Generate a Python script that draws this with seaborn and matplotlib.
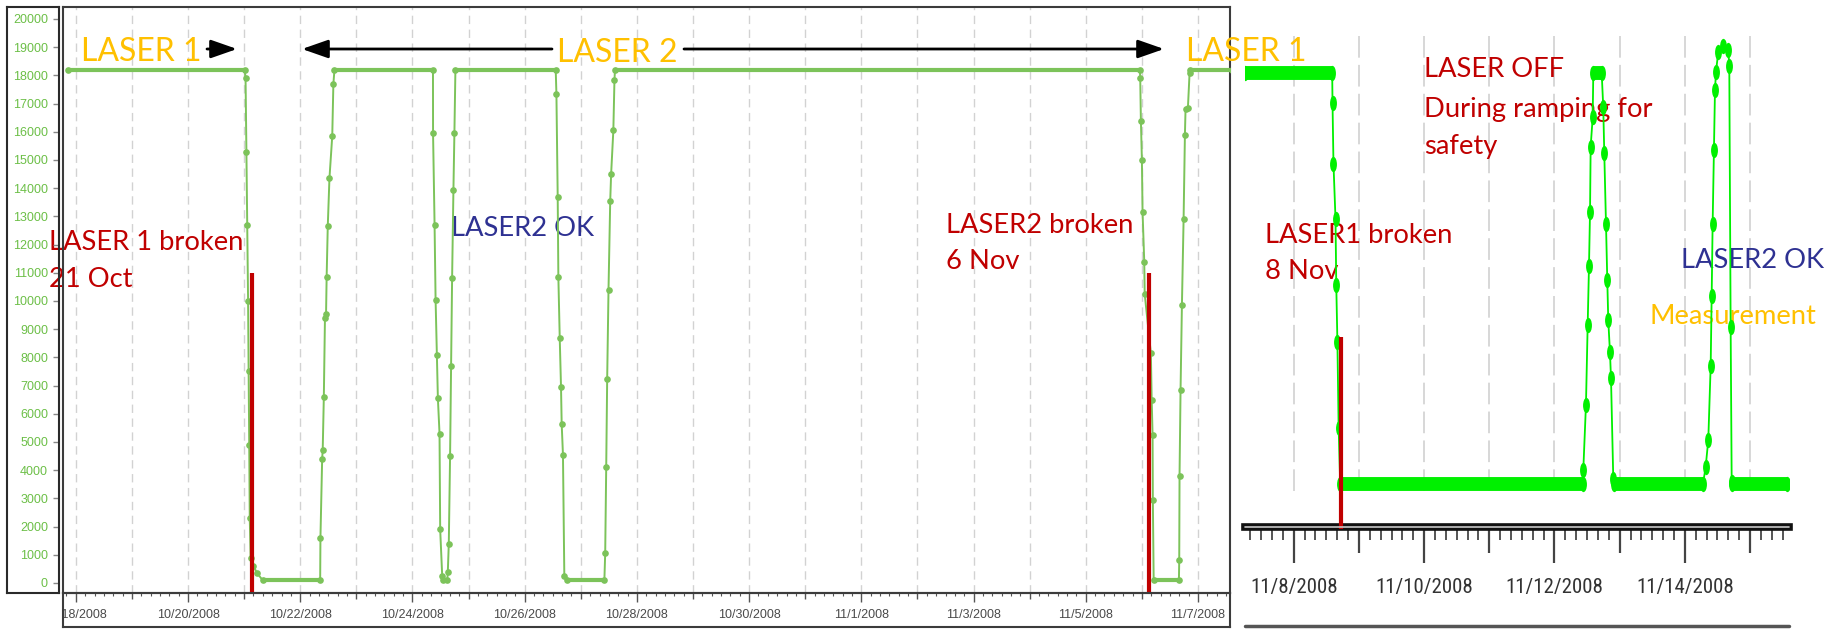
import warnings; warnings.filterwarnings("ignore")
from datetime import date
import numpy as np
import pandas as pd
import matplotlib.pyplot as plt
import matplotlib.dates as mdates
from matplotlib.ticker import FuncFormatter
from matplotlib.patches import FancyArrowPatch
from matplotlib.lines import Line2D
from matplotlib.path import Path
from matplotlib.transforms import Affine2D
from matplotlib import font_manager as fm
import seaborn as sns

sns.set_theme(style="white")
plt.rcParams["font.family"] = ["Lato", "DejaVu Sans"]

# ── data: laser power readback, 17 Oct - 7 Nov 2008 (left panel) ─────────────
left_time = [
    "2008-10-17 20:40", "2008-10-21 00:14", "2008-10-21 00:36", "2008-10-21 00:58",
    "2008-10-21 01:19", "2008-10-21 01:41", "2008-10-21 01:55", "2008-10-21 02:10",
    "2008-10-21 02:24", "2008-10-21 02:46", "2008-10-21 03:58", "2008-10-21 05:31",
    "2008-10-21 07:55",
    "2008-10-22 08:31", "2008-10-22 08:38", "2008-10-22 09:22", "2008-10-22 09:36",
    "2008-10-22 10:05", "2008-10-22 10:34", "2008-10-22 11:02", "2008-10-22 11:17",
    "2008-10-22 11:46", "2008-10-22 12:29", "2008-10-22 13:41", "2008-10-22 14:10",
    "2008-10-22 14:38",
    "2008-10-24 08:46", "2008-10-24 08:48", "2008-10-24 09:27", "2008-10-24 09:53",
    "2008-10-24 10:26", "2008-10-24 10:52", "2008-10-24 11:34", "2008-10-24 11:51",
    "2008-10-24 12:43", "2008-10-24 12:58",
    "2008-10-24 14:53", "2008-10-24 15:07", "2008-10-24 15:32", "2008-10-24 16:05",
    "2008-10-24 16:31", "2008-10-24 16:57", "2008-10-24 17:31", "2008-10-24 17:56",
    "2008-10-24 18:22",
    "2008-10-26 13:16", "2008-10-26 13:34", "2008-10-26 14:07", "2008-10-26 14:24",
    "2008-10-26 14:59", "2008-10-26 15:32", "2008-10-26 15:49", "2008-10-26 16:22",
    "2008-10-26 16:57", "2008-10-26 17:56",
    "2008-10-27 10:05", "2008-10-27 10:26", "2008-10-27 10:52", "2008-10-27 11:17",
    "2008-10-27 11:51", "2008-10-27 12:35", "2008-10-27 12:58", "2008-10-27 13:55",
    "2008-10-27 14:24", "2008-10-27 14:38",
    "2008-11-05 23:08", "2008-11-05 23:17", "2008-11-05 23:34", "2008-11-06 00:00",
    "2008-11-06 00:17", "2008-11-06 01:00", "2008-11-06 01:12", "2008-11-06 03:50",
    "2008-11-06 04:11", "2008-11-06 04:34", "2008-11-06 04:41", "2008-11-06 05:02",
    "2008-11-06 15:50", "2008-11-06 15:58", "2008-11-06 16:06", "2008-11-06 16:32",
    "2008-11-06 17:07", "2008-11-06 17:50", "2008-11-06 18:24", "2008-11-06 18:40",
    "2008-11-06 19:41", "2008-11-06 20:24", "2008-11-06 20:41",
    "2008-11-07 14:30",
]
left_value = [
    18200, 18200, 17900, 15300, 12700, 10000, 7500, 4900, 2300, 900, 600, 350, 100,
    100, 1600, 4400, 4700, 6600, 9400, 9550, 10850, 12650, 14350, 15850, 17700, 18200,
    18200, 15950, 12700, 10050, 8100, 6550, 5300, 1900, 250, 100,
    100, 400, 1400, 4500, 7700, 10800, 13950, 15950, 18200,
    18200, 17350, 13700, 10850, 8700, 6950, 5650, 4550, 250, 100,
    100, 1050, 4100, 7250, 10400, 13550, 14500, 16050, 17850, 18200,
    18200, 17900, 16400, 15000, 13150, 11400, 10250, 8150, 6500, 5250, 2950, 100,
    100, 800, 3800, 6850, 9850, 12900, 15900, 16800, 16850, 18100, 18200,
    18200,
]
left_broken = ["2008-10-21 03:29", "2008-11-06 02:53"]
broken_top = 11000
left_yticks = list(range(0, 20001, 1000))

# ── data: zoom 7 - 15 Nov 2008 (right panel) ──────────────────────────────────
right_time = [
    "2008-11-07 06:00", "2008-11-08 14:10", "2008-11-08 14:17", "2008-11-08 14:38",
    "2008-11-08 15:23", "2008-11-08 15:40", "2008-11-08 16:05", "2008-11-08 16:32",
    "2008-11-08 17:07",
    "2008-11-12 10:19", "2008-11-12 10:36", "2008-11-12 11:35", "2008-11-12 12:13",
    "2008-11-12 12:42", "2008-11-12 13:05", "2008-11-12 13:19", "2008-11-12 14:04",
    "2008-11-12 14:17", "2008-11-12 17:23", "2008-11-12 17:57", "2008-11-12 18:20",
    "2008-11-12 18:58", "2008-11-12 19:26", "2008-11-12 19:48", "2008-11-12 20:25",
    "2008-11-12 20:48", "2008-11-12 21:39", "2008-11-12 21:50",
    "2008-11-14 06:40", "2008-11-14 07:39", "2008-11-14 08:37", "2008-11-14 09:30",
    "2008-11-14 09:52", "2008-11-14 10:13", "2008-11-14 10:42", "2008-11-14 11:05",
    "2008-11-14 11:27", "2008-11-14 12:17", "2008-11-14 14:08", "2008-11-14 15:59",
    "2008-11-14 16:21", "2008-11-14 16:51", "2008-11-14 17:14", "2008-11-14 17:31",
    "2008-11-15 13:35",
]
right_value = [
    18200, 18200, 16900, 14200, 11750, 8800, 6300, 2500, 0,
    0, 600, 3500, 7050, 9650, 12050, 14950, 16250, 18200,
    18200, 16700, 14650, 11500, 9050, 7250, 5850, 4700, 200, 0,
    0, 750, 1950, 5250, 8350, 11500, 14800, 17450, 18250, 19150, 19400, 19250,
    18500, 6950, 100, 0,
    0,
]
right_broken = ["2008-11-08 17:14"]
right_broken_top = 6500

GREEN_L = "#7cc35a"
GREEN_R = "#00f000"
RED = "#c00000"
BLUE = "#2e3192"
YELLOW = "#ffc000"

W, H = 1843, 629
fig = plt.figure(figsize=(W / 100, H / 100), dpi=100)
fig.patch.set_facecolor("white")

def fbox(x0, y0, x1, y1):
    return [x0 / W, 1 - y1 / H, (x1 - x0) / W, (y1 - y0) / H]

def fx(px): return px / W
def fy(py): return 1 - py / H

def draw_series(ax, t, v, color, lw, flat_lw, marker, ms):
    sns.lineplot(x=t, y=v, ax=ax, estimator=None, sort=False, color=color, lw=lw,
                 marker=marker, markersize=ms, markeredgewidth=0, legend=False, zorder=3)
    for i in range(len(v) - 1):
        if v[i] == v[i + 1]:
            ax.plot(t[i:i + 2], v[i:i + 2], color=color, lw=flat_lw,
                    solid_capstyle="butt", zorder=3)

# ── left panel ────────────────────────────────────────────────────────────────
ax = fig.add_axes(fbox(63, 7, 1230, 593))
ax_y = fig.add_axes(fbox(7, 7, 59, 593), sharey=ax)
ax_x = fig.add_axes(fbox(63, 593, 1230, 627), sharex=ax)

lt = pd.Series(pd.to_datetime(left_time))
draw_series(ax, lt, left_value, GREEN_L, 1.4, 3.0, "o", 4.8)
ax.vlines(pd.to_datetime(left_broken), -355, broken_top, colors=RED, lw=3, zorder=4)

ax.set_xlim(pd.Timestamp("2008-10-17 18:31"), pd.Timestamp("2008-11-07 13:41"))
ax.set_ylim(-355, 20425)
ax.set_xlabel(""); ax.set_ylabel("")
ax.grid(True, axis="x", which="major", color="#d2d2d2", linestyle=(0, (6, 4)), lw=1)
ax.grid(False, axis="y")
ax.tick_params(bottom=False, left=False, labelbottom=False, labelleft=False)
for s in ax.spines.values():
    s.set_color("#3c3c3c"); s.set_linewidth(1.5)

def left_fmt(x, pos):
    d = mdates.num2date(x)
    if (d.date() - date(2008, 10, 18)).days % 2:
        return ""
    return f"{d.month}/{d.day}/{d.year}"

ax_x.set_facecolor("none")
ax_x.set_yticks([])
ax_x.xaxis.set_major_locator(mdates.DayLocator())
ax_x.xaxis.set_minor_locator(mdates.HourLocator(byhour=[4, 8, 12, 16, 20]))
ax_x.xaxis.set_major_formatter(FuncFormatter(left_fmt))
ax_x.tick_params(axis="x", which="both", direction="in", top=True, bottom=False,
                 labeltop=False, labelbottom=True, color="#555")
ax_x.tick_params(axis="x", which="major", length=4.5, width=1, pad=-13,
                 labelsize=9, labelcolor="#4a4a4a", labelfontfamily="Liberation Sans")
ax_x.tick_params(axis="x", which="minor", length=2.5, width=0.8)
for s in ax_x.spines.values():
    s.set_color("#3c3c3c"); s.set_linewidth(1.5)

ax_y.set_facecolor("none")
ax_y.set_xticks([])
ax_y.set_yticks(left_yticks)
ax_y.tick_params(axis="y", direction="in", left=False, right=True, labelleft=True,
                 labelright=False, length=4, width=1, color="#888", pad=-29.5,
                 labelsize=9, labelcolor="#6cbf47", labelfontfamily="Liberation Sans")
for s in ax_y.spines.values():
    s.set_color("#2a2a2a"); s.set_linewidth(1.5)

# annotations, left
txt = dict(transform=fig.transFigure, ha="left", va="baseline", zorder=1)
ax.text(fx(81), fy(61), "LASER 1", color=YELLOW, fontsize=23, **txt)
ax.text(fx(557), fy(61.5), "LASER 2", color=YELLOW, fontsize=23, **txt)
ax.text(fx(49), fy(250), "LASER 1 broken", color=RED, fontsize=19.7, **txt)
ax.text(fx(49), fy(287), "21 Oct", color=RED, fontsize=19.7, **txt)
ax.text(fx(451), fy(236), "LASER2 OK", color=BLUE, fontsize=19.7, **txt)
ax.text(fx(946), fy(233), "LASER2 broken", color=RED, fontsize=19.7, **txt)
ax.text(fx(946), fy(269), "6 Nov", color=RED, fontsize=19.7, **txt)

for a, b in [((207, 49), (237, 49)), ((552, 49), (302, 49)), ((684, 49), (1164, 49))]:
    fig.add_artist(FancyArrowPatch((fx(a[0]), fy(a[1])), (fx(b[0]), fy(b[1])),
                                   transform=fig.transFigure,
                                   arrowstyle="-|>,head_length=0.8,head_width=0.28",
                                   mutation_scale=20, lw=2, color="black",
                                   shrinkA=0, shrinkB=0))

# ── right panel ───────────────────────────────────────────────────────────────
ax_r = fig.add_axes(fbox(1245, 0, 1789, 527))
ax_r.set_facecolor("none")

rt = pd.Series(pd.to_datetime(right_time))
ellipse = Path.unit_circle().transformed(Affine2D().scale(0.45, 1.0))
draw_series(ax_r, rt, right_value, GREEN_R, 1.3, 10, ellipse, 11)
rb = ax_r.vlines(pd.to_datetime(right_broken), -2000, right_broken_top, colors=RED,
                 lw=3, zorder=4)
rb.set_clip_on(False)

ax_r.set_xlim(pd.Timestamp("2008-11-07 06:04"), pd.Timestamp("2008-11-15 14:20"))
ax_r.set_ylim(-1905, 21444)
ax_r.set_xlabel(""); ax_r.set_ylabel("")
ax_r.vlines(pd.date_range("2008-11-08", "2008-11-15", freq="D"), -300, 20000,
            colors="#d4d4d4", linestyles=(0, (12, 4)), lw=1.3, zorder=1)

# narrow face for the zoomed axis labels, whatever is installed
names = {(f.name, f.stretch) for f in fm.fontManager.ttflist}
label_font, label_stretch, label_size = "Liberation Sans", "normal", 13
for nm in ["Liberation Sans Narrow", "Roboto Condensed", "Open Sans Condensed"]:
    if any(n == nm for n, _ in names):
        label_font, label_stretch, label_size = nm, "normal", 15
        break
else:
    if ("DejaVu Sans", "condensed") in names:
        label_font, label_stretch, label_size = "DejaVu Sans", "condensed", 13.5

def right_fmt(x, pos):
    d = mdates.num2date(x)
    return "" if d.day % 2 else f"{d.month}/{d.day}/{d.year}"

for s in ["top", "left", "right"]:
    ax_r.spines[s].set_visible(False)
ax_r.spines["bottom"].set_color("#111")
ax_r.spines["bottom"].set_linewidth(5.5)
ax_r.add_line(Line2D([0, 1], [0, 0], transform=ax_r.transAxes, color="#c8c8c8",
                     lw=1.2, clip_on=False, zorder=5))
ax_r.set_yticks([])
ax_r.xaxis.set_major_locator(mdates.DayLocator())
ax_r.xaxis.set_minor_locator(mdates.HourLocator(byhour=[4, 8, 12, 16, 20]))
ax_r.xaxis.set_major_formatter(FuncFormatter(right_fmt))
ax_r.tick_params(axis="x", which="major", direction="out", bottom=True, length=19,
                 width=1.6, color="#444", pad=18, labelcolor="#333")
ax_r.tick_params(axis="x", which="minor", direction="out", bottom=True, length=9.5,
                 width=1.4, color="#555")
for lab in ax_r.get_xticklabels():
    lab.set_fontfamily(label_font)
    lab.set_fontstretch(label_stretch)
    lab.set_fontsize(label_size)
fig.add_artist(Line2D([fx(1245), fx(1789)], [fy(626), fy(626)],
                      transform=fig.transFigure, color="#555", lw=2.5))

txt_r = dict(transform=fig.transFigure, ha="left", va="baseline", zorder=1)
ax_r.text(fx(1186), fy(61), "LASER 1", color=YELLOW, fontsize=23, **txt_r)
ax_r.text(fx(1424), fy(77), "LASER OFF", color=RED, fontsize=19.7, **txt_r)
ax_r.text(fx(1424), fy(116.5), "During ramping for", color=RED, fontsize=19.7, **txt_r)
ax_r.text(fx(1424), fy(154), "safety", color=RED, fontsize=19.7, **txt_r)
ax_r.text(fx(1265), fy(243), "LASER1 broken", color=RED, fontsize=19.7, **txt_r)
ax_r.text(fx(1265), fy(279), "8 Nov", color=RED, fontsize=19.7, **txt_r)
ax_r.text(fx(1681), fy(268), "LASER2 OK", color=BLUE, fontsize=19.7, **txt_r)
ax_r.text(fx(1649), fy(324), "Measurement", color=YELLOW, fontsize=19.7, **txt_r)

# ── tick tweaks that need the ticks to exist ──────────────────────────────────
fig.canvas.draw()
for t in ax_x.xaxis.get_major_ticks():
    t.label1.set_clip_box(ax_x.bbox)
    t.label1.set_clip_on(True)
    d = mdates.num2date(t.get_loc())
    if (d.date() - date(2008, 10, 18)).days % 2 == 0:
        t.tick2line.set_markersize(6.5)
for t in ax_r.xaxis.get_major_ticks():
    t.label1.set_fontfamily(label_font)
    t.label1.set_fontstretch(label_stretch)
    t.label1.set_fontsize(label_size)
    if mdates.num2date(t.get_loc()).day % 2 == 0:
        t.tick1line.set_markersize(26)

fig.savefig("out.png", dpi=100, facecolor="white")
